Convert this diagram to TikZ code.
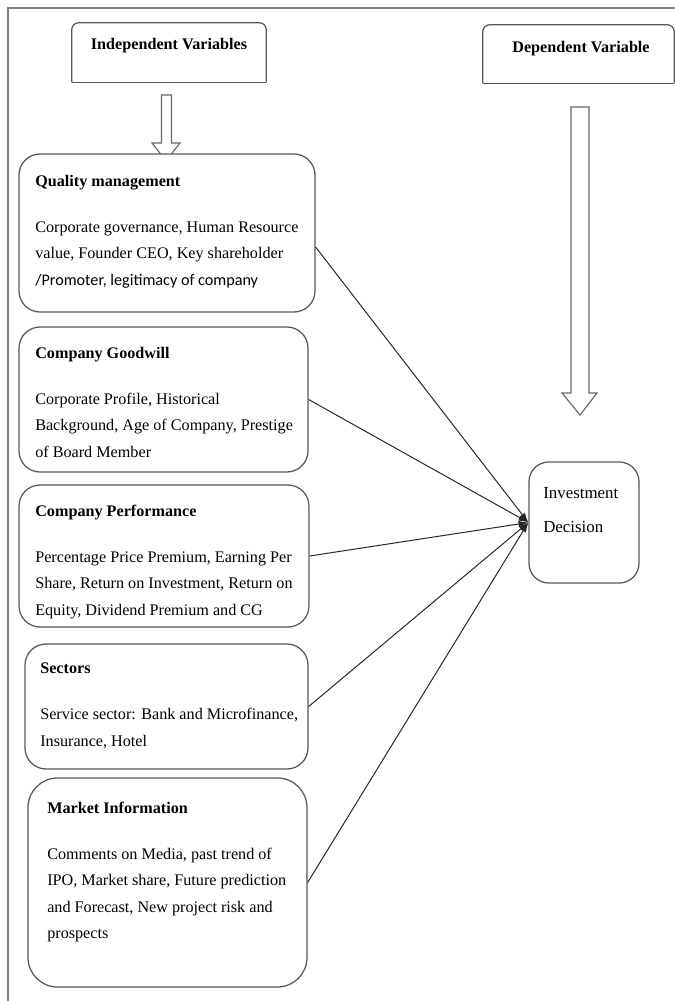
\documentclass[tikz,border=0pt]{standalone}
\usepackage{fontspec}
\setmainfont{Liberation Serif}
\newfontfamily\calibri{Carlito}
\usetikzlibrary{arrows,arrows.meta,positioning,fit,calc}

\tikzset{
  box/.style={draw=black!65, line width=0.9pt, rounded corners=15pt, fill=white, inner sep=0pt},
  head/.style={draw=black!65, line width=0.9pt},
  txt/.style={inner sep=0pt, align=left, anchor=north west, font=\fontsize{11.5}{18.7}\selectfont},
  link/.style={black!85, line width=0.7pt, -{Latex[length=7pt,width=4.5pt]}},
  blockarrow/.style={draw=black!60, line width=0.8pt, fill=white}
}

\begin{document}
\begin{tikzpicture}[x=0.025cm, y=-0.025cm]
\useasboundingbox (0,0) rectangle (675,1001);
\draw[black!50, line width=1.6pt] (8,1001) -- (8,8) -- (675,8);

% headers
\node[fit={(72,23) (266,82)}, inner sep=0pt] (indep) {};
\draw[head, rounded corners=5pt] (indep.south west) -- (indep.north west) -- (indep.north east) -- (indep.south east);
\draw[head] (indep.south west) -- (indep.south east);
\node[font=\bfseries\fontsize{11.5}{14}\selectfont, anchor=base] (indeptxt) at (169,49) {Independent Variables};

\node[fit={(483,25) (674,83)}, inner sep=0pt] (dep) {};
\draw[head, rounded corners=5pt] (dep.south west) -- (dep.north west) -- (dep.north east) -- (dep.south east);
\draw[head] (dep.south west) -- (dep.south east);
\node[font=\bfseries\fontsize{11.5}{14}\selectfont, anchor=base] (deptxt) at (581,52) {Dependent Variable};

% block arrows
\draw[blockarrow] (161.5,95) -- (171.5,95) -- (171.5,143) -- (180,143) -- (166,161) -- (152,143) -- (161.5,143) -- cycle;
\draw[blockarrow] (571,107) -- (589,107) -- (589,393) -- (597,393) -- (580,415) -- (562,393) -- (571,393) -- cycle;

% independent variables
\node[box, fit={(19,154) (315,312)}] (qual) {};
\node[txt] (qualtxt) at (35,175) {\textbf{Quality management}\\[14pt]
  Corporate governance, Human Resource\\
  value, Founder CEO, Key shareholder\\
  {\calibri /Promoter, legitimacy of company}};

\node[box, fit={(19,327) (308,472)}] (goodw) {};
\node[txt] (goodwtxt) at (35,347) {\textbf{Company Goodwill}\\[14pt]
  Corporate Profile, Historical\\
  Background, Age of Company, Prestige\\
  of Board Member};

\node[box, fit={(19,485) (309,627)}] (perf) {};
\node[txt] (perftxt) at (35,505) {\textbf{Company Performance}\\[14pt]
  Percentage Price Premium, Earning Per\\
  Share, Return on Investment, Return on\\
  Equity, Dividend Premium and CG};

\node[box, fit={(25,644) (308,769)}] (sect) {};
\node[txt] (secttxt) at (40,663) {\textbf{Sectors}\\[14pt]
  Service sector: Bank and Microfinance,\\
  Insurance, Hotel};

\node[box, rounded corners=21pt, fit={(28,778) (307,987)}] (market) {};
\node[txt] (markettxt) at (47,802) {\textbf{Market Information}\\[14pt]
  Comments on Media, past trend of\\
  IPO, Market share, Future prediction\\
  and Forecast, New project risk and\\
  prospects};

% dependent variable
\node[box, rounded corners=14pt, fit={(529,462) (639,583)}] (invest) {};
\node[txt, font=\fontsize{12}{24.2}\selectfont] (investtxt) at (543,487) {Investment\\Decision};

\draw[link] ([yshift=-10pt]qual.east) -- (invest.west);
\draw[link] (goodw.east) -- (invest.west);
\draw[link] (perf.east) -- (invest.west);
\draw[link] (sect.east) -- (invest.west);
\draw[link] (market.east) -- (invest.west);

\end{tikzpicture}
\end{document}
